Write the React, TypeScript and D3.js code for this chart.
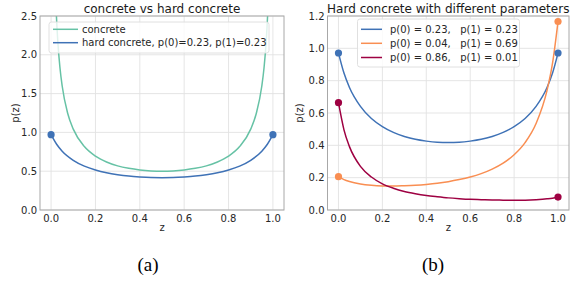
import * as d3 from 'd3';

// shared z grid for the hard concrete curves
const zGrid = [0, 0.025, 0.05, 0.1, 0.15, 0.2, 0.25, 0.3, 0.35, 0.4, 0.45, 0.5, 0.55, 0.6, 0.65, 0.7, 0.75, 0.8, 0.85, 0.9, 0.95, 0.975, 1];
const hardBlue = [0.971, 0.847, 0.758, 0.641, 0.566, 0.516, 0.48, 0.455, 0.437, 0.426, 0.419, 0.417, 0.419, 0.426, 0.437, 0.455, 0.48, 0.516, 0.566, 0.641, 0.758, 0.847, 0.971];
const hardOrange = [0.206, 0.188, 0.176, 0.161, 0.153, 0.149, 0.148, 0.15, 0.153, 0.158, 0.165, 0.175, 0.188, 0.204, 0.225, 0.253, 0.29, 0.342, 0.417, 0.535, 0.74, 0.908, 1.166];
const hardCrimson = [0.664, 0.496, 0.392, 0.27, 0.204, 0.162, 0.135, 0.115, 0.101, 0.09, 0.082, 0.075, 0.07, 0.066, 0.064, 0.062, 0.061, 0.06, 0.061, 0.064, 0.069, 0.073, 0.08];

// plain concrete density (goes off the top near the edges)
const concreteZ = [0.015, 0.02, 0.03, 0.04, 0.05, 0.075, 0.1, 0.15, 0.2, 0.25, 0.3, 0.35, 0.4, 0.45, 0.5, 0.55, 0.6, 0.65, 0.7, 0.75, 0.8, 0.85, 0.9, 0.925, 0.95, 0.96, 0.97, 0.98, 0.985];
const concreteVals = [3.309, 2.79, 2.185, 1.833, 1.598, 1.243, 1.042, 0.817, 0.694, 0.619, 0.569, 0.537, 0.516, 0.504, 0.5, 0.504, 0.516, 0.537, 0.569, 0.619, 0.694, 0.817, 1.042, 1.243, 1.598, 1.833, 2.185, 2.79, 3.309];

const xTicks = [0, 0.2, 0.4, 0.6, 0.8, 1.0];
const yTicksA = [0, 0.5, 1.0, 1.5, 2.0, 2.5];
const yTicksB = [0, 0.2, 0.4, 0.6, 0.8, 1.0, 1.2];

const legendA = ['concrete', 'hard concrete, p(0)=0.23, p(1)=0.23'];
const legendB = ['p(0) = 0.23,   p(1) = 0.23', 'p(0) = 0.04,   p(1) = 0.69', 'p(0) = 0.86,   p(1) = 0.01'];

const GREEN = '#66c2a5';
const BLUE = '#3f72b6';
const ORANGE = '#f98e52';
const CRIMSON = '#9e0142';
const FONT = 'DejaVu Sans, sans-serif';

type Series = { xs: number[]; ys: number[]; color: string; dots?: boolean };

function Panel(props: {
  id: string;
  x0: number;
  x1: number;
  yMax: number;
  yTicks: number[];
  title: string;
  labelX: number;
  series: Series[];
  legend: { items: string[]; colors: string[]; box: [number, number, number, number]; lineX: [number, number]; textX: number; rowY: number[] };
}) {
  const { id, x0, x1, yMax, yTicks, title, labelX, series, legend } = props;
  const top = 16;
  const bottom = 210;
  const x = d3.scaleLinear().domain([-0.05, 1.05]).range([x0, x1]);
  const y = d3.scaleLinear().domain([0, yMax]).range([bottom, top]);
  const line = d3
    .line<[number, number]>()
    .x((d) => x(d[0]))
    .y((d) => y(d[1]))
    .curve(d3.curveMonotoneX);
  const [bx, by, bw, bh] = legend.box;

  return (
    <g fontFamily={FONT}>
      <defs>
        <clipPath id={id}>
          <rect x={x0} y={top} width={x1 - x0} height={bottom - top} />
        </clipPath>
      </defs>
      {/* grid */}
      {xTicks.map((t) => (
        <line key={'gx' + t} x1={x(t)} x2={x(t)} y1={top} y2={bottom} stroke="#e2e2e2" strokeWidth={0.9} />
      ))}
      {yTicks.map((t) => (
        <line key={'gy' + t} x1={x0} x2={x1} y1={y(t)} y2={y(t)} stroke="#e2e2e2" strokeWidth={0.9} />
      ))}
      {/* curves */}
      <g clipPath={`url(#${id})`}>
        {series.map((s, i) => (
          <path
            key={i}
            d={line(s.xs.map((v, j) => [v, s.ys[j]] as [number, number])) || ''}
            fill="none"
            stroke={s.color}
            strokeWidth={1.5}
          />
        ))}
      </g>
      {series
        .filter((s) => s.dots)
        .map((s, i) => (
          <g key={'d' + i}>
            <circle cx={x(s.xs[0])} cy={y(s.ys[0])} r={3.6} fill={s.color} />
            <circle cx={x(s.xs[s.xs.length - 1])} cy={y(s.ys[s.ys.length - 1])} r={3.6} fill={s.color} />
          </g>
        ))}
      {/* frame */}
      <rect x={x0} y={top} width={x1 - x0} height={bottom - top} fill="none" stroke="#a8a8a8" strokeWidth={1} />
      {/* tick labels */}
      {xTicks.map((t) => (
        <text key={'tx' + t} x={x(t)} y={222} textAnchor="middle" fontSize={10} fill="#262626">
          {t.toFixed(1)}
        </text>
      ))}
      {yTicks.map((t) => (
        <text key={'ty' + t} x={x0 - 3} y={y(t) + 3.6} textAnchor="end" fontSize={10} fill="#262626">
          {t.toFixed(1)}
        </text>
      ))}
      <text x={(x0 + x1) / 2} y={231} textAnchor="middle" fontSize={10} fill="#262626">
        z
      </text>
      <text
        transform={`translate(${labelX},${(top + bottom) / 2}) rotate(-90)`}
        textAnchor="middle"
        fontSize={10}
        fill="#262626"
      >
        p(z)
      </text>
      <text x={(x0 + x1) / 2} y={13} textAnchor="middle" fontSize={12} fill="#1a1a1a">
        {title}
      </text>
      {/* legend */}
      <rect x={bx} y={by} width={bw} height={bh} rx={2.5} fill="white" fillOpacity={0.8} stroke="#dcdcdc" strokeWidth={0.9} />
      {legend.items.map((txt, i) => (
        <g key={'l' + i}>
          <line x1={legend.lineX[0]} x2={legend.lineX[1]} y1={legend.rowY[i]} y2={legend.rowY[i]} stroke={legend.colors[i]} strokeWidth={1.5} />
          <text x={legend.textX} y={legend.rowY[i] + 3.6} fontSize={10} fill="#262626" style={{ whiteSpace: 'pre' }}>
            {txt}
          </text>
        </g>
      ))}
    </g>
  );
}

export default function App() {
  return (
    <svg width={575} height={282} style={{ position: 'absolute', left: 0, top: 0, background: 'white' }}>
      <Panel
        id="clipA"
        x0={40}
        x1={284}
        yMax={2.5}
        yTicks={yTicksA}
        title="concrete vs hard concrete"
        labelX={18.5}
        series={[
          { xs: concreteZ, ys: concreteVals, color: GREEN },
          { xs: zGrid, ys: hardBlue, color: BLUE, dots: true },
        ]}
        legend={{ items: legendA, colors: [GREEN, BLUE], box: [49, 22, 220, 31], lineX: [53, 78], textX: 82, rowY: [29.3, 42.7] }}
      />
      <Panel
        id="clipB"
        x0={327.5}
        x1={569}
        yMax={1.2}
        yTicks={yTicksB}
        title="Hard concrete with different parameters"
        labelX={303}
        series={[
          { xs: zGrid, ys: hardBlue, color: BLUE, dots: true },
          { xs: zGrid, ys: hardOrange, color: ORANGE, dots: true },
          { xs: zGrid, ys: hardCrimson, color: CRIMSON, dots: true },
        ]}
        legend={{ items: legendB, colors: [BLUE, ORANGE, CRIMSON], box: [357.5, 19, 162, 48], lineX: [361, 382], textX: 390, rowY: [29.3, 43.3, 57.5] }}
      />
      <text x={148} y={271} textAnchor="middle" fontSize={19} fontFamily="Liberation Serif, Times New Roman, serif" fill="#000">
        (a)
      </text>
      <text x={433} y={271} textAnchor="middle" fontSize={19} fontFamily="Liberation Serif, Times New Roman, serif" fill="#000">
        (b)
      </text>
    </svg>
  );
}
